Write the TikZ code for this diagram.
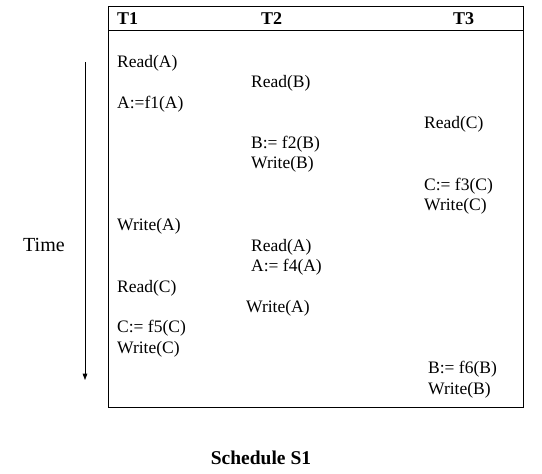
\documentclass[tikz,border=0pt]{standalone}
\usepackage{fontspec}
\setmainfont{Liberation Serif}
\usetikzlibrary{arrows.meta, positioning}
\tikzset{
  frame/.style    = {line width=0.8pt, black},
  hdr/.style      = {anchor=west, inner sep=0pt, font=\fontsize{18}{20}\selectfont\bfseries},
  op/.style       = {anchor=west, inner sep=0pt, font=\fontsize{17.5}{20}\selectfont},
  timeline/.style = {-{Triangle[length=2.2mm, width=1.6mm]}, line width=0.6pt},
}

\begin{document}
\begin{tikzpicture}[x=1pt,y=-1pt]
  \useasboundingbox (0,0) rectangle (542,474);
  % schedule frame with header row
  \draw[frame] (108,6) rectangle (523,407);
  \draw[frame] (108,30) -- (523,30);
  \node[hdr] (h1) at (117,19) {T1};
  \node[hdr] (h2) at (261,19) {T2};
  \node[hdr] (h3) at (453,19) {T3};
  % T1
  \node[op] (a1) at (117,63)  {Read(A)};
  \node[op] (a2) at (117,104) {A:=f1(A)};
  \node[op] (a3) at (117,226) {Write(A)};
  \node[op] (a4) at (117,288) {Read(C)};
  \node[op] (a5) at (117,328) {C:= f5(C)};
  \node[op] (a6) at (117,349) {Write(C)};
  % T2
  \node[op] (b1) at (251,83)  {Read(B)};
  \node[op] (b2) at (251,144) {B:= f2(B)};
  \node[op] (b3) at (251,164) {Write(B)};
  \node[op] (b4) at (251,247) {Read(A)};
  \node[op] (b5) at (251,267) {A:= f4(A)};
  \node[op] (b6) at (246,308) {Write(A)};
  % T3
  \node[op] (c1) at (424,124) {Read(C)};
  \node[op] (c2) at (424,186) {C:= f3(C)};
  \node[op] (c3) at (424,206) {Write(C)};
  \node[op] (c4) at (428,369) {B:= f6(B)};
  \node[op] (c5) at (428,390) {Write(B)};
  % time axis
  \node[op, font=\fontsize{20}{22}\selectfont] (time) at (23,245) {Time};
  \coordinate (t0) at (85,62);
  \coordinate (t1) at (85,380);
  \draw[timeline] (t0) -- (t1);
  \node[hdr, anchor=center, font=\fontsize{19.5}{22}\selectfont\bfseries] (cap) at (261,458) {Schedule S1};
\end{tikzpicture}
\end{document}
